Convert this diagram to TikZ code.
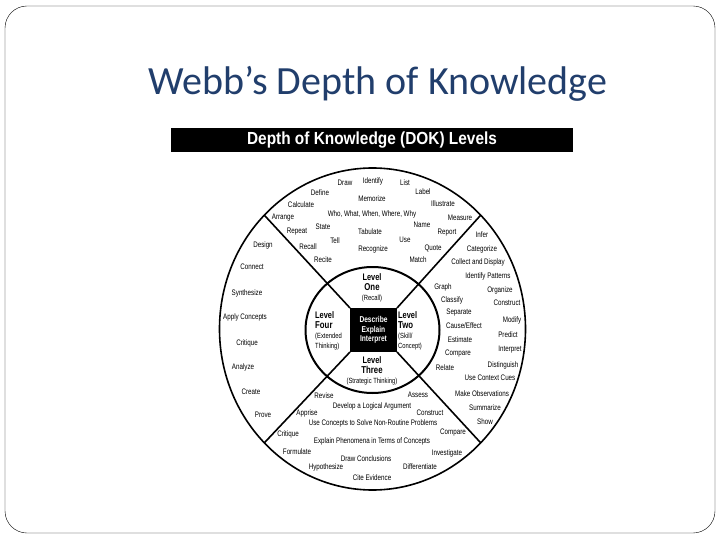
\documentclass[tikz,border=0pt]{standalone}
\usepackage{fontspec}
\setmainfont{Carlito}
\newfontfamily\dokfont[FakeStretch=0.78]{Liberation Sans}
\newfontfamily\bannerfont[FakeStretch=0.88]{Liberation Sans}
\usetikzlibrary{shapes.geometric}
\definecolor{slideblue}{RGB}{33,62,108}
\begin{document}
\begin{tikzpicture}[x=1pt,y=-1pt,
  wd/.style={font=\dokfont\fontsize{8}{8}\selectfont,inner sep=0pt},
  lvl/.style={font=\dokfont\fontsize{7.5}{9.8}\selectfont,inner sep=0pt},
  ring/.style={draw,ellipse,line width=1.6pt,inner sep=0pt,outer sep=0pt}]
\useasboundingbox (0,0) rectangle (720,540);
\draw[rounded corners=22pt] (5,6) rectangle (715,533);
\node[anchor=base,text=slideblue,font=\fontsize{40}{40}\selectfont] (title) at (378,95) {Webb’s Depth of Knowledge};
\node[fill=black,minimum width=402pt,minimum height=24pt,inner sep=0pt,text=white,
  font=\bannerfont\bfseries\fontsize{17.5}{17.5}\selectfont] (bar) at (372,140) {Depth of Knowledge (DOK) Levels};
\node[ring,minimum width=306pt,minimum height=322pt] (outer) at (372.5,329) {};
\node[ring,line width=2pt,minimum width=134pt,minimum height=126pt] (inner) at (372.5,330) {};
\node[fill=black,minimum width=47pt,minimum height=44pt,inner sep=0pt,outer sep=0pt,text=white,align=center,
  font=\dokfont\bfseries\fontsize{8.5}{9.8}\selectfont] (sq) at (373.5,330) {Describe\\Explain\\Interpret};
\draw[line width=1.6pt] (sq.north west) -- (outer.north west);
\draw[line width=1.6pt] (sq.north east) -- (outer.north east);
\draw[line width=1.6pt] (sq.south west) -- (outer.south west);
\draw[line width=1.6pt] (sq.south east) -- (outer.south east);
\node[lvl,align=center] (one) at (372,288) {\textbf{\fontsize{9.5}{9.8}\selectfont Level}\\\textbf{\fontsize{10}{9.8}\selectfont One}\\(Recall)};
\node[lvl,align=left,anchor=west] (two) at (398,331) {\textbf{\fontsize{9.5}{9.8}\selectfont Level}\\\textbf{\fontsize{10}{9.8}\selectfont Two}\\(Skill/\\Concept)};
\node[lvl,align=left,anchor=west] (four) at (315,331) {\textbf{\fontsize{9.5}{9.8}\selectfont Level}\\\textbf{\fontsize{10}{9.8}\selectfont Four}\\(Extended\\Thinking)};
\node[lvl,align=center] (three) at (372,371) {\textbf{\fontsize{9.5}{9.8}\selectfont Level}\\\textbf{\fontsize{10}{9.8}\selectfont Three}\\(Strategic Thinking)};
% recall
\node[wd] (t1) at (345,183) {Draw};
\node[wd] (t2) at (373,181) {Identify};
\node[wd] (t3) at (405,183) {List};
\node[wd] (t4) at (320,193) {Define};
\node[wd] (t5) at (423,192) {Label};
\node[wd] (t6) at (372,199) {Memorize};
\node[wd] (t7) at (301,205) {Calculate};
\node[wd] (t8) at (443,204) {Illustrate};
\node[wd] (t9) at (372,214) {Who, What, When, Where, Why};
\node[wd] (t10) at (283,218) {Arrange};
\node[wd] (t11) at (460,218) {Measure};
\node[wd] (t12) at (323,227) {State};
\node[wd] (t13) at (422,225) {Name};
\node[wd] (t14) at (297,232) {Repeat};
\node[wd] (t15) at (370,232) {Tabulate};
\node[wd] (t16) at (447,233) {Report};
\node[wd] (t17) at (335,241) {Tell};
\node[wd] (t18) at (405,240) {Use};
\node[wd] (t19) at (308,247) {Recall};
\node[wd] (t20) at (373,249) {Recognize};
\node[wd] (t21) at (433,248) {Quote};
\node[wd] (t22) at (323,260) {Recite};
\node[wd] (t23) at (418,260) {Match};
% skill
\node[wd] (r1) at (482,235) {Infer};
\node[wd] (r2) at (482,249) {Categorize};
\node[wd] (r3) at (478,262) {Collect and Display};
\node[wd] (r4) at (488,276) {Identify Patterns};
\node[wd] (r5) at (443,287) {Graph};
\node[wd] (r6) at (500,290) {Organize};
\node[wd] (r7) at (452,300) {Classify};
\node[wd] (r8) at (507,303) {Construct};
\node[wd] (r9) at (459,313) {Separate};
\node[wd] (r10) at (512,320) {Modify};
\node[wd] (r11) at (464,326) {Cause/Effect};
\node[wd] (r12) at (508,335) {Predict};
\node[wd] (r13) at (460,340) {Estimate};
\node[wd] (r14) at (510,350) {Interpret};
\node[wd] (r15) at (458,354) {Compare};
\node[wd] (r16) at (503,365) {Distinguish};
\node[wd] (r17) at (445,368) {Relate};
\node[wd] (r18) at (490,378) {Use Context Cues};
\node[wd] (r19) at (482,394) {Make Observations};
\node[wd] (r20) at (485,408) {Summarize};
\node[wd] (r21) at (485,422) {Show};
% strategic
\node[wd] (b1) at (324,396) {Revise};
\node[wd] (b2) at (418,395) {Assess};
\node[wd] (b3) at (372,406) {Develop a Logical Argument};
\node[wd] (b4) at (307,413) {Apprise};
\node[wd] (b5) at (430,413) {Construct};
\node[wd] (b6) at (373,423) {Use Concepts to Solve Non-Routine Problems};
\node[wd] (b7) at (288,434) {Critique};
\node[wd] (b8) at (453,433) {Compare};
\node[wd] (b9) at (372,441) {Explain Phenomena in Terms of Concepts};
\node[wd] (b10) at (297,452) {Formulate};
\node[wd] (b11) at (447,453) {Investigate};
\node[wd] (b12) at (366,459) {Draw Conclusions};
\node[wd] (b13) at (326,467) {Hypothesize};
\node[wd] (b14) at (420,467) {Differentiate};
\node[wd] (b15) at (372,478) {Cite Evidence};
% extended
\node[wd] (l1) at (263,245) {Design};
\node[wd] (l2) at (252,267) {Connect};
\node[wd] (l3) at (247,293) {Synthesize};
\node[wd] (l4) at (245,317) {Apply Concepts};
\node[wd] (l5) at (247,343) {Critique};
\node[wd] (l6) at (243,367) {Analyze};
\node[wd] (l7) at (251,392) {Create};
\node[wd] (l8) at (263,415) {Prove};
\end{tikzpicture}
\end{document}
